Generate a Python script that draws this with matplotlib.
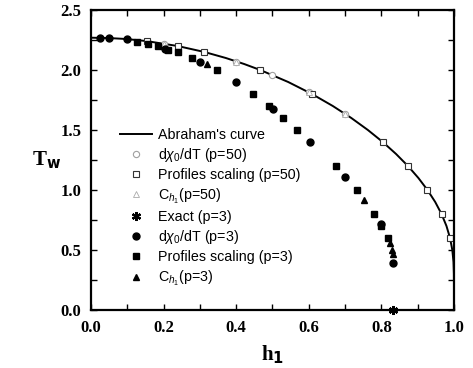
import matplotlib
matplotlib.use("Agg")
import matplotlib.pyplot as plt
from matplotlib.ticker import MultipleLocator

plt.rcParams["mathtext.fontset"] = "custom"
plt.rcParams["mathtext.rm"] = "Liberation Sans"
plt.rcParams["mathtext.it"] = "Liberation Sans:italic"

# Abraham's wetting curve (h1, Tw)
abraham_h = [0.0, 0.0473, 0.0874, 0.1257, 0.1553, 0.2386, 0.3126, 0.3715, 0.4219,
             0.4664, 0.5433, 0.6088, 0.6662, 0.7172, 0.7628, 0.8038, 0.8405, 0.8732,
             0.9020, 0.9270, 0.9483, 0.9657, 0.9793, 0.9891, 0.9954, 0.9987, 0.9998,
             1.0, 1.0]
abraham_T = [2.2692, 2.2665, 2.26, 2.25, 2.24, 2.2, 2.15, 2.1, 2.05,
             2.0, 1.9, 1.8, 1.7, 1.6, 1.5, 1.4, 1.3, 1.2,
             1.1, 1.0, 0.9, 0.8, 0.7, 0.6, 0.5, 0.4, 0.3,
             0.2, 0.0]

# p = 50
chi50_h = [0.2, 0.4, 0.5, 0.6, 0.7]
chi50_T = [2.22, 2.07, 1.955, 1.815, 1.63]
prof50_h = [0.1553, 0.2386, 0.3126, 0.4664, 0.6088, 0.8038, 0.8732, 0.9270, 0.9657, 0.9891]
prof50_T = [2.24, 2.2, 2.15, 2.0, 1.8, 1.4, 1.2, 1.0, 0.8, 0.6]
ch50_h = [0.2, 0.4, 0.6, 0.7]
ch50_T = [2.22, 2.07, 1.815, 1.63]

# p = 3
exact3_h = [0.833]
exact3_T = [0.0]
chi3_h = [0.025, 0.05, 0.10, 0.204, 0.30, 0.40, 0.502, 0.603, 0.70, 0.80, 0.833]
chi3_T = [2.27, 2.27, 2.26, 2.175, 2.065, 1.90, 1.675, 1.40, 1.11, 0.72, 0.39]
prof3_h = [0.126, 0.156, 0.185, 0.213, 0.239, 0.279, 0.346, 0.447, 0.49, 0.53,
           0.568, 0.675, 0.733, 0.78, 0.80, 0.818]
prof3_T = [2.236, 2.217, 2.20, 2.17, 2.147, 2.097, 2.0, 1.80, 1.70, 1.60,
           1.50, 1.20, 1.0, 0.80, 0.70, 0.60]
ch3_h = [0.319, 0.752, 0.824, 0.828, 0.831]
ch3_T = [2.047, 0.917, 0.555, 0.50, 0.47]

fig = plt.figure(figsize=(4.73, 3.68), dpi=100)
ax = fig.add_axes([0.1924, 0.1576, 0.7674, 0.8152])

ax.plot(abraham_h, abraham_T, color="black", lw=1.4, label="Abraham's curve")
ax.plot(chi50_h, chi50_T, ls="none", marker="o", ms=4.5, mfc="white",
        mec="#a0a0a0", mew=0.8, label=r"d$\chi_0$/dT (p=50)")
ax.plot(prof50_h, prof50_T, ls="none", marker="s", ms=4.5, mfc="white",
        mec="#333333", mew=0.8, label="Profiles scaling (p=50)")
ax.plot(ch50_h, ch50_T, ls="none", marker="^", ms=4.0, mfc="white",
        mec="#aaaaaa", mew=0.6, label=r"C$_{h_1}$(p=50)")
ax.plot(exact3_h, exact3_T, ls="none", marker=(6, 2, 0), ms=6.5, color="black",
        mew=1.6, clip_on=False, label="Exact (p=3)")
ax.plot(chi3_h, chi3_T, ls="none", marker="o", ms=5, color="black",
        label=r"d$\chi_0$/dT (p=3)")
ax.plot(prof3_h, prof3_T, ls="none", marker="s", ms=4.5, color="black",
        label="Profiles scaling (p=3)")
ax.plot(ch3_h, ch3_T, ls="none", marker="^", ms=5, color="black",
        label=r"C$_{h_1}$(p=3)")

ax.set_xlim(0, 1)
ax.set_ylim(0, 2.5)
ax.xaxis.set_major_locator(MultipleLocator(0.2))
ax.xaxis.set_minor_locator(MultipleLocator(0.1))
ax.yaxis.set_major_locator(MultipleLocator(0.5))
ax.yaxis.set_minor_locator(MultipleLocator(0.25))
ax.tick_params(which="both", direction="in", top=True, right=True, width=1.0)
ax.tick_params(which="major", length=4, pad=7)
ax.tick_params(which="minor", length=4)
for s in ax.spines.values():
    s.set_linewidth(1.6)

ax.set_xticklabels([f"{v:.1f}" for v in ax.get_xticks()])
ax.set_yticklabels([f"{v:.1f}" for v in ax.get_yticks()])
for lab in ax.get_xticklabels() + ax.get_yticklabels():
    lab.set_fontfamily("Liberation Serif")
    lab.set_fontweight("bold")
    lab.set_fontsize(12)

ax.set_xlabel(r"h$_\mathbf{1}$", fontfamily="Liberation Serif", fontweight="bold",
              fontsize=15, labelpad=6)
ax.set_ylabel(r"T$_\mathbf{w}$", fontfamily="Liberation Serif", fontweight="bold",
              fontsize=15, rotation=0, labelpad=10, va="center")

ax.legend(loc="lower left", bbox_to_anchor=(0.065, 0.055), frameon=False,
          prop={"family": "Liberation Sans", "size": 10.3}, handlelength=2.2,
          handletextpad=0.45, labelspacing=0.3, borderaxespad=0)

fig.savefig("out.png", dpi=100)
